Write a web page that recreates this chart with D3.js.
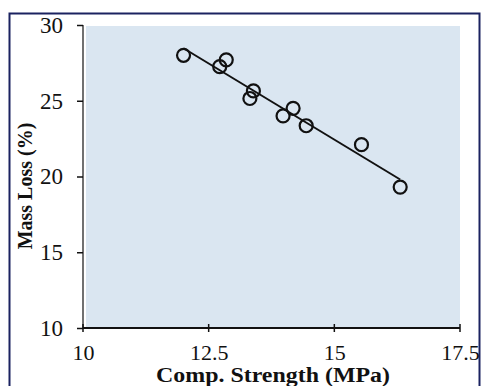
<!DOCTYPE html>
<html>
<head>
<meta charset="utf-8">
<script src="https://cdn.jsdelivr.net/npm/d3@7"></script>
<style>
  html, body { margin: 0; padding: 0; background: #fff; }
  svg { display: block; }
  text { font-family: "Liberation Serif", "Times New Roman", serif; fill: #111; }
</style>
</head>
<body>
<svg id="chart" width="485" height="386"></svg>
<script>
// compressive strength (MPa) vs mass loss (%)
var strength = [12.0, 12.85, 12.72, 13.39, 13.32, 14.18, 13.98, 14.44, 15.54, 16.31];
var massLoss = [28.0, 27.7, 27.25, 25.65, 25.15, 24.5, 24.0, 23.35, 22.1, 19.3];
var xTicks = [10, 12.5, 15, 17.5];
var yTicks = [10, 15, 20, 25, 30];

(function() {
  var svg = d3.select("svg#chart");

  var x = d3.scaleLinear().domain([10, 17.5]).range([83, 460]);
  var y = d3.scaleLinear().domain([10, 30]).range([328, 25]);

  // outer frame
  svg.append("rect")
    .attr("x", 9.5).attr("y", 13.5)
    .attr("width", 470).attr("height", 400)
    .style("fill", "none")
    .style("stroke", "#1b2260")
    .style("stroke-width", 2);

  // shaded plot area
  svg.append("rect")
    .attr("x", 86).attr("y", 26)
    .attr("width", x(17.5) - 86).attr("height", y(10) - 26)
    .style("fill", "#dae6f1");

  // axes
  var xAxis = d3.axisBottom(x).tickValues(xTicks).tickSize(0).tickPadding(16)
    .tickFormat(function(d) { return d; });
  var yAxis = d3.axisLeft(y).tickValues(yTicks).tickSize(6).tickPadding(14);

  var gx = svg.append("g").attr("transform", "translate(0," + y(10) + ")").call(xAxis);
  gx.select(".domain").remove();
  gx.selectAll(".tick text").style("font-size", "22px").style("font-family", "Liberation Serif").attr("fill", "#111");

  svg.append("line")
    .attr("x1", x(10)).attr("x2", x(17.5))
    .attr("y1", y(10)).attr("y2", y(10))
    .style("stroke", "#111").style("stroke-width", 2);

  svg.selectAll(".xtick")
    .data(xTicks)
    .enter().append("line")
    .attr("class", "xtick")
    .attr("x1", function(d) { return x(d); }).attr("x2", function(d) { return x(d); })
    .attr("y1", y(10) - 4).attr("y2", y(10) + 4)
    .style("stroke", "#111").style("stroke-width", 1.5);

  var gy = svg.append("g").attr("transform", "translate(" + x(10) + ",0)").call(yAxis);
  gy.select(".domain").remove();
  gy.selectAll(".tick line").style("stroke", "#111").style("stroke-width", 1.5);
  gy.selectAll(".tick text").style("font-size", "23px").style("font-family", "Liberation Serif").attr("fill", "#111");

  svg.append("line")
    .attr("x1", x(10)).attr("x2", x(10))
    .attr("y1", y(30)).attr("y2", y(10))
    .style("stroke", "#111").style("stroke-width", 1.2);

  // least squares trend line
  var n = strength.length;
  var mx = d3.mean(strength), my = d3.mean(massLoss);
  var sxy = 0, sxx = 0;
  for (var i = 0; i < n; i++) {
    sxy += (strength[i] - mx) * (massLoss[i] - my);
    sxx += (strength[i] - mx) * (strength[i] - mx);
  }
  var slope = sxy / sxx, icpt = my - slope * mx;
  var x0 = d3.min(strength), x1 = d3.max(strength);

  svg.append("line")
    .attr("x1", x(x0)).attr("y1", y(icpt + slope * x0))
    .attr("x2", x(x1)).attr("y2", y(icpt + slope * x1))
    .style("stroke", "#111").style("stroke-width", 2);

  svg.selectAll(".pt")
    .data(strength)
    .enter().append("circle")
    .attr("class", "pt")
    .attr("cx", function(d) { return x(d); })
    .attr("cy", function(d, i) { return y(massLoss[i]); })
    .attr("r", 6.5)
    .style("fill", "none")
    .style("stroke", "#111")
    .style("stroke-width", 2.2);

  // axis titles
  svg.append("text")
    .attr("x", 273).attr("y", 382)
    .attr("text-anchor", "middle")
    .attr("textLength", 234)
    .attr("lengthAdjust", "spacingAndGlyphs")
    .style("font-size", "20px").style("font-weight", "bold")
    .text("Comp. Strength (MPa)");

  svg.append("text")
    .attr("transform", "translate(32,186) rotate(-90)")
    .attr("text-anchor", "middle")
    .style("font-size", "20px").style("font-weight", "bold")
    .text("Mass Loss (%)");
})();
</script>
</body>
</html>
